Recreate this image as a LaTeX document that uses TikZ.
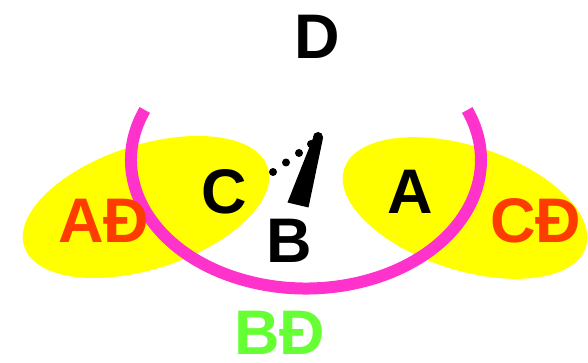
\documentclass[tikz,border=0pt]{standalone}
\usepackage{fontspec}
\setmainfont{Liberation Sans}
\definecolor{ylw}{RGB}{255,255,0}
\definecolor{mag}{RGB}{255,51,204}
\definecolor{redo}{RGB}{255,60,0}
\definecolor{grn}{RGB}{102,255,51}
\begin{document}
\begin{tikzpicture}[x=1pt,y=-1pt,
  lbl/.style={inner sep=0pt,font=\fontsize{63}{63}\selectfont\bfseries},
  blk/.style={lbl,text=black},
  red/.style={lbl,text=redo},
  grnl/.style={lbl,text=grn}]
\useasboundingbox (0,0) rectangle (588,363);
% yellow ellipses
\fill[ylw,rotate around={18:(146,207)}] (146,207) ellipse [x radius=128, y radius=62];
\fill[ylw,rotate around={-18:(465,208)}] (465,208) ellipse [x radius=127, y radius=62];
% magenta arc
\coordinate (ac) at (306,160);
\draw[mag,line width=12pt] ([shift={(202.9:175 and 128.5)}]ac) arc[start angle=202.9, end angle=-22.9, x radius=175, y radius=128.5];
% wedge and dots
\fill[black] (313,138) -- (287.5,202.5) -- (308.5,207.5) -- (323,138) -- cycle;
\fill[black] (318,137) circle[radius=5];
\foreach \p in {(273,172),(286,162.5),(299,153),(311,144)}
  \fill[black] \p circle[radius=4];
% labels
\node[blk] (D) at (317,37) {D};
\node[blk] (C) at (224,192) {C};
\node[blk] (A) at (410,192) {A};
\node[blk] (B) at (289,241) {B};
\node[red] (AD) at (104,221) {AĐ};
\node[red] (CD) at (536,221) {CĐ};
\node[grnl] (BD) at (280,333) {BĐ};
\end{tikzpicture}
\end{document}
